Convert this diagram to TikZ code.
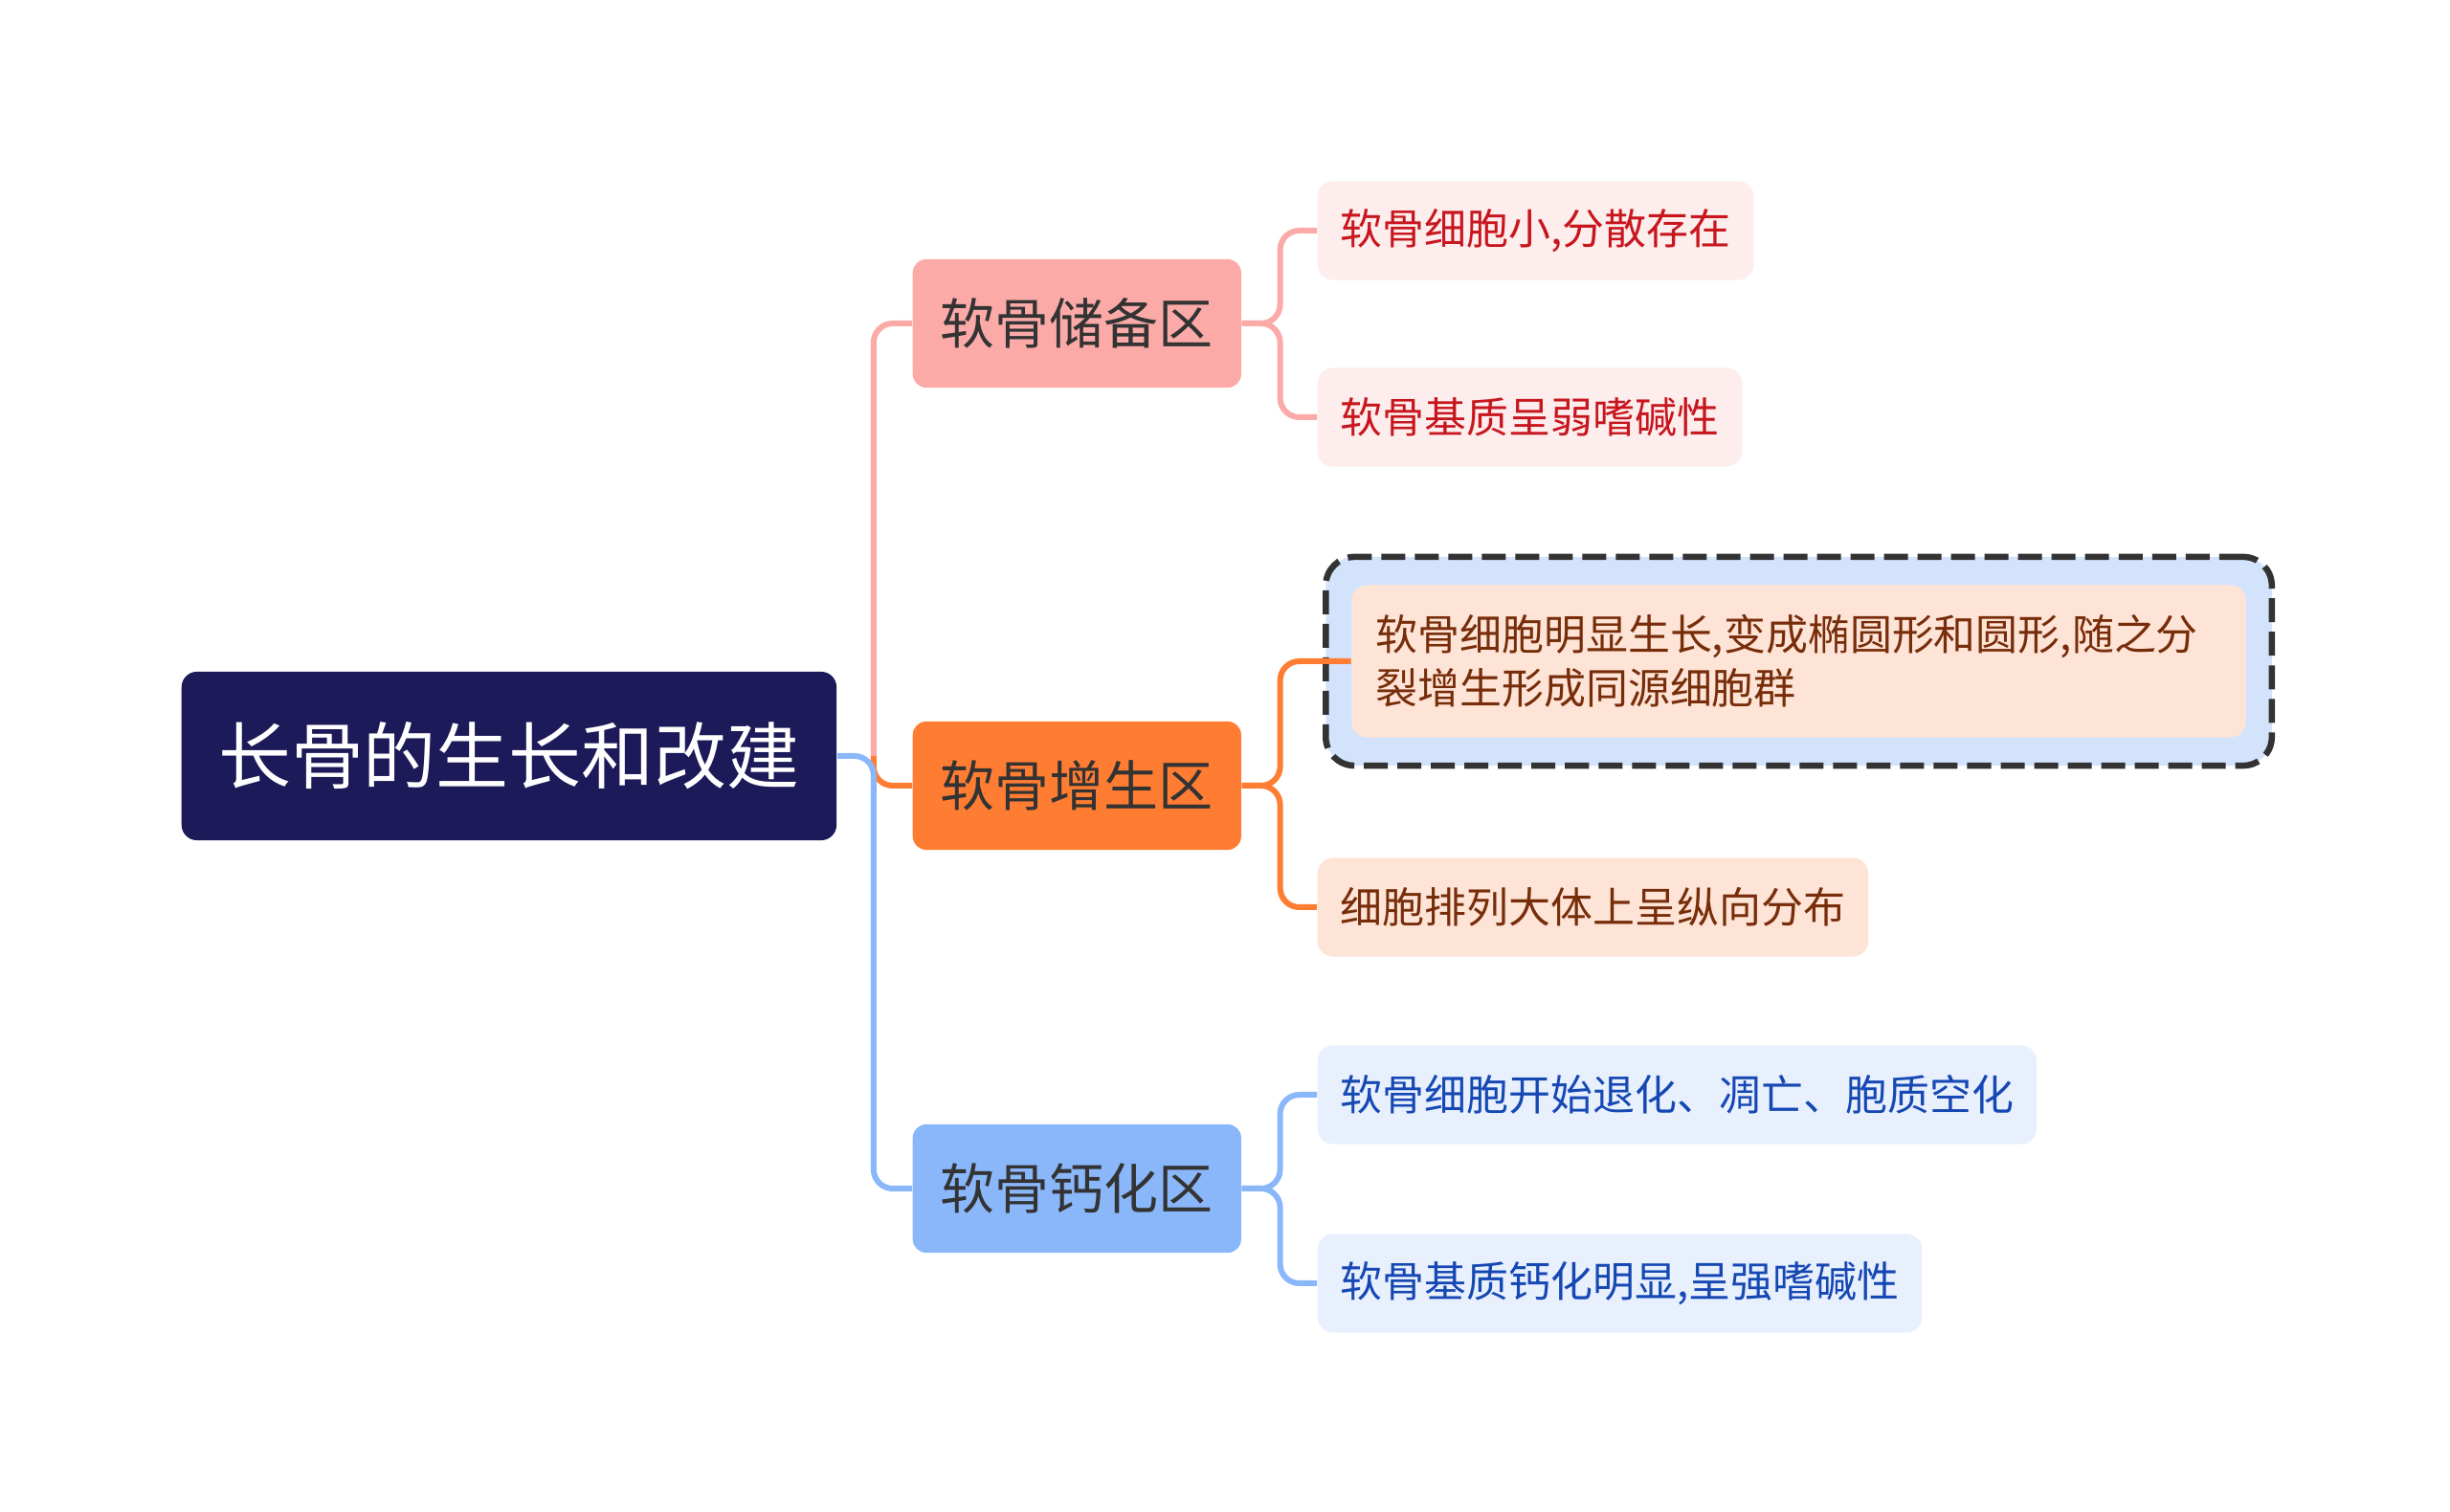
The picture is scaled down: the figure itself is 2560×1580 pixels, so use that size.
\documentclass[tikz,border=0pt]{standalone}
\usepackage{fontspec}
\setmainfont{Noto Sans CJK SC}
\usepackage{tikz}
\definecolor{rootnavy}{RGB}{28,26,88}
\definecolor{zonetext}{RGB}{51,51,51}
\definecolor{pinkzone}{RGB}{251,170,168}
\definecolor{orangezone}{RGB}{255,125,50}
\definecolor{bluezone}{RGB}{138,183,250}
\definecolor{pinkleaf}{RGB}{253,237,237}
\definecolor{pinktext}{RGB}{200,22,30}
\definecolor{orangeleaf}{RGB}{253,228,214}
\definecolor{orangetext}{RGB}{120,45,10}
\definecolor{blueleaf}{RGB}{232,240,253}
\definecolor{bluetext}{RGB}{22,72,180}
\definecolor{framefill}{RGB}{211,227,252}
\definecolor{framedash}{RGB}{51,51,51}

\begin{document}
\begin{tikzpicture}[x=0.01cm,y=-0.01cm,
  zone/.style={rounded corners=0.14cm, minimum width=3.43cm, minimum height=1.34cm,
    anchor=west, text=zonetext, font=\fontsize{16.2pt}{19pt}\selectfont},
  leaf/.style={rounded corners=0.16cm, minimum height=1.03cm, inner xsep=0.24cm,
    anchor=west, font=\fontsize{12.5pt}{15.9pt}\selectfont},
  link/.style={line width=0.06cm, rounded corners=0.2cm}]

\useasboundingbox (0,0) rectangle (2560,1580);

% Root
\node[fill=rootnavy, text=white, rounded corners=0.16cm, minimum width=6.84cm,
  minimum height=1.76cm, anchor=west, font=\fontsize{21.6pt}{25pt}\selectfont]
  (root) at (189,790) {长骨的生长和改建};

% === Zones ===
\node[zone, fill=pinkzone] (reserve) at (953,338) {软骨储备区};
\node[zone, fill=orangezone] (prolif) at (953,821) {软骨增生区};
\node[zone, fill=bluezone] (calc) at (953,1242) {软骨钙化区};

% === Reserve zone leaves ===
\node[leaf, fill=pinkleaf, text=pinktext] (reserveA) at (1376,241) {软骨细胞小,分散存在};
\node[leaf, fill=pinkleaf, text=pinktext] (reserveB) at (1376,436) {软骨基质呈弱嗜碱性};

% === Proliferation zone leaves ===
\node[draw=framedash, fill=framefill, line width=0.065cm, dash pattern=on 0.25cm off 0.1cm,
  rounded corners=0.3cm, minimum width=9.88cm, minimum height=2.18cm, anchor=west]
  (prolifframe) at (1382,691) {};
\node[leaf, fill=orangeleaf, text=orangetext, text width=8.84cm, align=left,
  inner xsep=0.25cm, minimum height=1.59cm, anchor=center]
  (prolifA) at (prolifframe.center) {软骨细胞明显生长,变成椭圆形和圆形,随之分\\裂增生形成同源细胞群};
\node[leaf, fill=orangeleaf, text=orangetext] (prolifB) at (1376,948) {细胞排列大体上呈纵向分布};

% === Calcification zone leaves ===
\node[leaf, fill=blueleaf, text=bluetext] (calcA) at (1376,1144) {软骨细胞开始退化、凋亡、胞质空化};
\node[leaf, fill=blueleaf, text=bluetext] (calcB) at (1376,1341) {软骨基质钙化明显,呈强嗜碱性};

% Root to zones
\draw[link, pinkzone] (root.east) ++(38,0) |- (reserve.west);
\draw[link, orangezone] (root.east) ++(38,0) |- (prolif.west);
\draw[link, bluezone] (root.east) -- ++(38,0) |- (calc.west);

% Zones to leaves
\foreach \z/\a/\b/\c in {reserve/reserveA/reserveB/pinkzone,prolif/prolifA/prolifB/orangezone,calc/calcA/calcB/bluezone}{
  \draw[link, \c] (\z.east) -- ++(40,0) |- (\a.west);
  \draw[link, \c] (\z.east) -- ++(40,0) |- (\b.west);
}

\end{tikzpicture}
\end{document}
